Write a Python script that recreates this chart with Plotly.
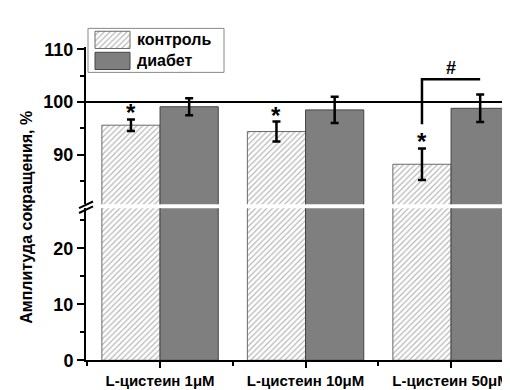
import plotly.graph_objects as go

# ---- data ----
categories = ["L-цистеин 1μM", "L-цистеин 10μM", "L-цистеин 50μM"]
series_names = ["контроль", "диабет"]
control = [95.6, 94.4, 88.2]
control_err = [1.1, 1.9, 3.0]
diabetes = [99.1, 98.5, 98.8]
diabetes_err = [1.6, 2.5, 2.6]
stars = ["*", "*", "*"]
bracket_low, bracket_high = 95.8, 104.3
reference_level = 100
top_ticks = [90, 100, 110]
bottom_ticks = [0, 10, 20]

W, H = 510, 390
FONT = "Arial, Liberation Sans, sans-serif"
xpos = list(range(1, len(categories) + 1))
BW = 0.4

def px(x):
    return x / W

def py(y):
    return 1 - y / H

hatch = dict(shape="/", fgcolor="#707070", bgcolor="white", size=4, solidity=0.3)
gray = "#7f7f7f"

fig = go.Figure()

for yax, with_err in (("y2", True), ("y", False)):
    fig.add_trace(go.Bar(
        x=xpos, y=control, width=BW, offset=-BW, xaxis="x", yaxis=yax,
        marker=dict(color="white", pattern=hatch, line=dict(color="#6a6a6a", width=1)),
        error_y=dict(type="data", array=control_err, color="black", thickness=2.5, width=4, visible=with_err),
        showlegend=False, name=series_names[0]))
    fig.add_trace(go.Bar(
        x=xpos, y=diabetes, width=BW, offset=0, xaxis="x", yaxis=yax,
        marker=dict(color=gray, line=dict(color="#444444", width=1)),
        error_y=dict(type="data", array=diabetes_err, color="black", thickness=2.5, width=4, visible=with_err),
        showlegend=False, name=series_names[1]))

# manual legend swatches on a pixel-coordinate overlay axis
sw = [(87, 122, 17, 35), (87, 122, 39, 57)]
for i, (x0, x1, y0, y1) in enumerate(sw):
    kw = dict(fillpattern=hatch, fillcolor="white") if i == 0 else dict(fillcolor=gray)
    fig.add_trace(go.Scatter(
        x=[x0, x1, x1, x0, x0], y=[y0, y0, y1, y1, y0], mode="lines", fill="toself",
        line=dict(color="#6a6a6a" if i == 0 else "#444444", width=1),
        xaxis="x2", yaxis="y3", showlegend=False, hoverinfo="skip", **kw))

axis_common = dict(showline=True, linecolor="black", linewidth=2, ticks="outside",
                   tickwidth=2, tickcolor="black", ticklen=7, showgrid=False, zeroline=False,
                   tickfont=dict(family=FONT, size=18, color="black", weight="bold"))

fig.update_layout(
    width=W, height=H, margin=dict(l=0, r=0, t=0, b=0),
    paper_bgcolor="white", plot_bgcolor="rgba(0,0,0,0)",
    barmode="overlay", font=dict(family=FONT, color="black"),
    xaxis=dict(domain=[px(78), 1], range=[0.491, 3.46], anchor="y",
               tickvals=xpos, ticktext=categories, showline=True, linecolor="black",
               linewidth=2, ticks="outside", ticklen=6, tickwidth=2, tickcolor="black",
               showgrid=False, zeroline=False, ticklabelstandoff=0,
               minor=dict(tick0=0.5, dtick=1, ticklen=4, tickwidth=2, tickcolor="black", ticks="outside"),
               tickfont=dict(family=FONT, size=15, color="black", weight="bold")),
    yaxis=dict(domain=[py(361), py(202)], range=[0, 27.2], anchor="x",
               tickvals=bottom_ticks,
               minor=dict(tick0=5, dtick=10, ticklen=4, tickwidth=2, tickcolor="black", ticks="outside"),
               **axis_common),
    yaxis2=dict(domain=[py(198), py(33)], range=[80.6, 110.5], anchor="x",
                tickvals=top_ticks,
                minor=dict(tick0=85, dtick=10, ticklen=4, tickwidth=2, tickcolor="black", ticks="outside"),
                **axis_common),
    xaxis2=dict(domain=[0, 1], range=[0, W], visible=False, anchor="y3"),
    yaxis3=dict(domain=[0, 1], range=[H, 0], visible=False, anchor="x2"),
)

shapes = []
# reference line at 100%
shapes.append(dict(type="line", xref="x domain", yref="y2", x0=0, x1=1,
                   y0=reference_level, y1=reference_level, line=dict(color="black", width=2)))
# significance bracket between control and diabetes of the last group
xc = xpos[-1] - BW / 2
xd = xpos[-1] + BW / 2
shapes.append(dict(type="path", xref="x", yref="y2",
                   path=f"M {xc},{bracket_low} L {xc},{bracket_high} L {xd},{bracket_high}",
                   line=dict(color="black", width=2.5)))
# axis break marks
for dy in (0, 5):
    shapes.append(dict(type="line", xref="paper", yref="paper",
                       x0=px(71), y0=py(202 + dy), x1=px(85), y1=py(195 + dy),
                       line=dict(color="black", width=2)))
# legend box
shapes.append(dict(type="rect", xref="paper", yref="paper", x0=px(80), x1=px(216),
                   y0=py(60), y1=py(14), line=dict(color="#888888", width=1)))
fig.update_layout(shapes=shapes)

ann = []
for i, s in enumerate(stars):
    ann.append(dict(x=xpos[i] - BW / 2, y=control[i] + control_err[i], xref="x", yref="y2",
                    text=f"<b>{s}</b>", showarrow=False, yanchor="bottom", yshift=-9,
                    font=dict(family=FONT, size=24, color="black")))
ann.append(dict(x=xpos[-1], y=bracket_high, xref="x", yref="y2", text="<b>#</b>",
                showarrow=False, yanchor="bottom", yshift=-1,
                font=dict(family=FONT, size=18, color="black")))
for i, name in enumerate(series_names):
    ann.append(dict(x=px(127), y=py(26 + 22 * i), xref="paper", yref="paper",
                    text=f"<b>{name}</b>", showarrow=False, xanchor="left", yanchor="middle",
                    font=dict(family=FONT, size=16, color="black")))
ann.append(dict(x=px(19), y=py(212), xref="paper", yref="paper",
                text="<b>Амплитуда сокращения, %</b>", textangle=-90, showarrow=False,
                xanchor="center", yanchor="middle", font=dict(family=FONT, size=16, color="black")))
fig.update_layout(annotations=ann)

fig.write_html("out.html")
